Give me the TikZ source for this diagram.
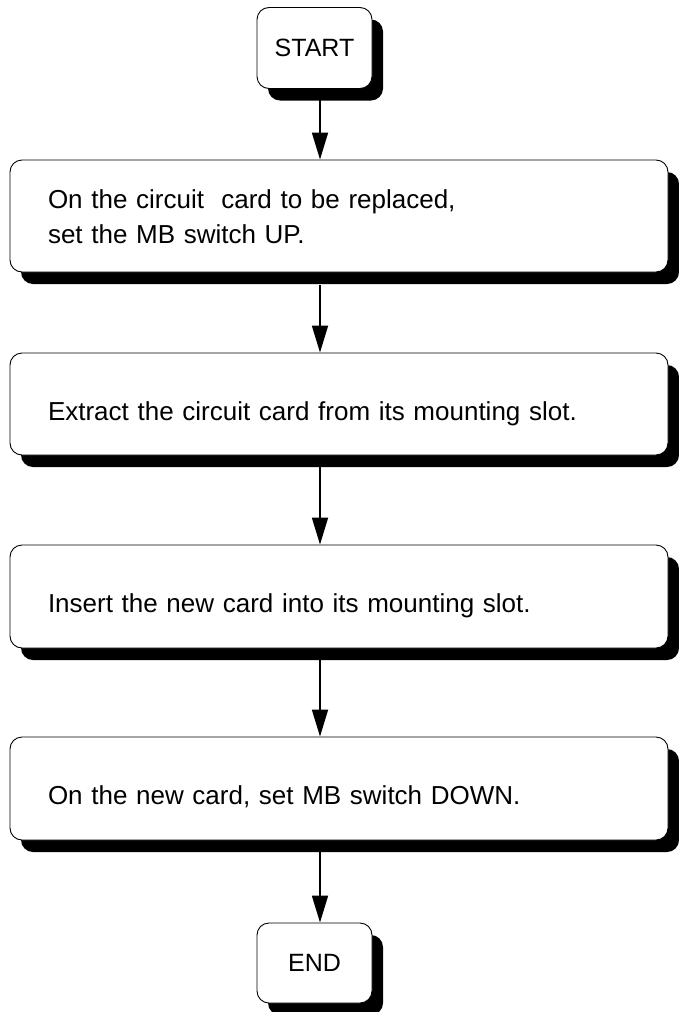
\documentclass[tikz,border=0pt]{standalone}
\usepackage{fontspec}
\setmainfont{Liberation Sans}
\usetikzlibrary{shadows,arrows.meta}
\begin{document}
\begin{tikzpicture}[x=1pt,y=-1pt,
  box/.style={draw=black,line width=0.9pt,fill=white,rounded corners=12pt,
    drop shadow={shadow xshift=11pt,shadow yshift=-12pt,fill=black,opacity=1},
    font=\fontsize{26}{35}\selectfont},
  term/.style={box,minimum width=115pt,minimum height=81pt,inner sep=0pt,font=\fontsize{25}{30}\selectfont},
  stepbox/.style={box,minimum width=658pt,text width=582pt,inner xsep=38pt,inner ysep=0pt,align=left,
    text height=38pt,text depth=6pt},
  conn/.style={line width=1.8pt,-{Triangle[length=27pt,width=16pt]}}]
\useasboundingbox (0,0) rectangle (679,1012);
\node[term] (start) at (314.5,48) {START};
\node[stepbox,minimum height=112pt,text height=20pt,text depth=36pt] (s1) at (339,216) {On the circuit\ \ card to be replaced,\\set the MB switch UP.};
\node[stepbox,minimum height=102pt] (s2) at (339,404) {Extract the circuit card from its mounting slot.};
\node[stepbox,minimum height=103pt] (s3) at (339,596.5) {Insert the new card into its mounting slot.};
\node[stepbox,minimum height=103pt] (s4) at (339,788.5) {On the new card, set MB switch DOWN.};
\node[term,minimum height=80pt] (end) at (314.5,963) {END};
\draw[conn] (start.south -| 320,0) -- (s1.north -| 320,0);
\draw[conn] (320,285) -- (s2.north -| 320,0);
\draw[conn] (320,467) -- (s3.north -| 320,0);
\draw[conn] (320,660) -- (s4.north -| 320,0);
\draw[conn] (320,852) -- (end.north -| 320,0);
\end{tikzpicture}
\end{document}
